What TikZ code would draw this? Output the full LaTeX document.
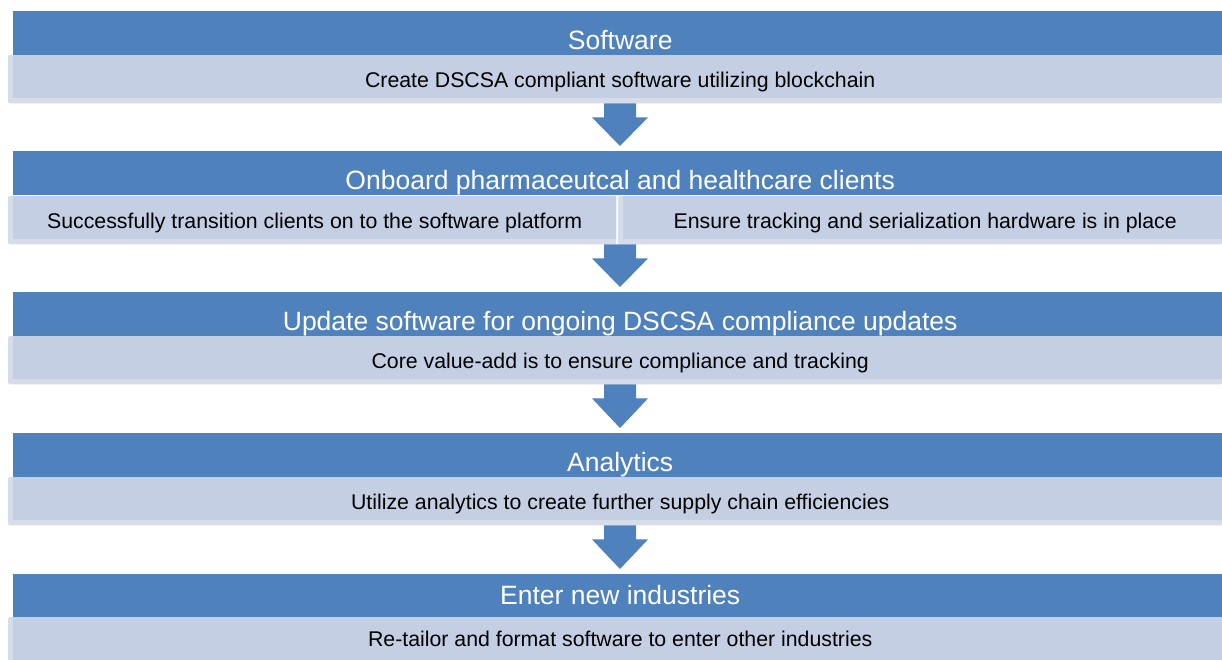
\documentclass[tikz,border=0pt]{standalone}
\usepackage{fontspec}
\setmainfont{Liberation Sans}
\usetikzlibrary{calc,backgrounds}
\definecolor{hdrblue}{HTML}{4F81BD}
\definecolor{sublight}{HTML}{C4CFE3}
\definecolor{fringec}{HTML}{D6DCEA}
\newcommand{\flowarrow}[2]{\fill[arrowfill] let \p1=(#1.south), \p2=(#2.north) in
  (604pt,\y1-5pt) -- (636pt,\y1-5pt) -- (636pt,\y1-19pt) -- (648pt,\y1-19pt) --
  (620pt,\y2+5pt) -- (592pt,\y1-19pt) -- (604pt,\y1-19pt) -- cycle;}
\newcommand{\fringebox}[1]{\fill[fringefill] ([xshift=-5pt]#1.north west) rectangle ([yshift=-5pt]#1.south east);}
\begin{document}
\begin{tikzpicture}[x=1pt,y=-1pt,
  hdr/.style={fill=hdrblue, draw=none, anchor=north west, inner sep=0pt,
    minimum height=44pt, minimum width=1209pt, text height=32pt, text depth=0pt,
    font=\fontsize{26.5}{28}\selectfont, text=white},
  sub/.style={fill=sublight, draw=none, anchor=north west, inner sep=0pt,
    minimum height=43pt, text height=21pt, text depth=0pt,
    font=\fontsize{21.3}{24}\selectfont, text=black},
  wide/.style={minimum width=1209pt},
  shifted/.style={execute at begin node={\hspace*{5pt}}},
  arrowfill/.style={fill=hdrblue},
  fringefill/.style={fill=fringec, rounded corners=1.5pt},
]
\useasboundingbox (0,0) rectangle (1222,660);

% Row 1
\node[hdr, shifted] (h1) at (13,11) {Software};
\node[sub, wide, shifted] (s1) at (13,55) {Create DSCSA compliant software utilizing blockchain};
% Row 2
\node[hdr, shifted] (h2) at (13,151) {Onboard pharmaceutcal and healthcare clients};
\node[sub, minimum width=603pt] (s2a) at (13,196) {Successfully transition clients on to the software platform};
\node[sub, minimum width=599pt, shifted] (s2b) at (623,196) {Ensure tracking and serialization hardware is in place};
% Row 3
\node[hdr, shifted] (h3) at (13,292) {Update software for ongoing DSCSA compliance updates};
\node[sub, wide, shifted] (s3) at (13,336) {Core value-add is to ensure compliance and tracking};
% Row 4
\node[hdr, shifted] (h4) at (13,433) {Analytics};
\node[sub, wide, shifted] (s4) at (13,477) {Utilize analytics to create further supply chain efficiencies};
% Row 5
\node[hdr, shifted, text height=17pt] (h5) at (13,574) {Enter new industries};
\node[sub, wide, shifted, text height=15pt] (s5) at (13,617) {Re-tailor and format software to enter other industries};

\begin{scope}[on background layer]
  \fill[white] (0,0) rectangle (1222,660);
  \fringebox{s1}
  \fringebox{s2a}
  \fringebox{s2b}
  \fringebox{s3}
  \fringebox{s4}
  \fringebox{s5}
\end{scope}

\flowarrow{s1}{h2}
\flowarrow{s2a}{h3}
\flowarrow{s3}{h4}
\flowarrow{s4}{h5}
\end{tikzpicture}
\end{document}
